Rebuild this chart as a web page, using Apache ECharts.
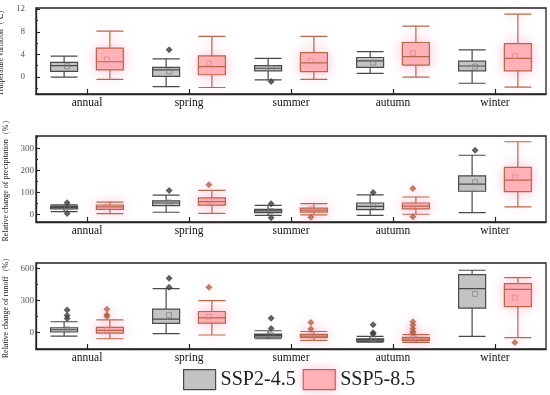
<!DOCTYPE html>
<html><head><meta charset="utf-8">
<script src="https://cdn.jsdelivr.net/npm/echarts@6/dist/echarts.min.js"></script>
<style>html,body{margin:0;padding:0;background:#fff}#c{width:550px;height:395px}</style>
</head><body><div id="c"></div>
<script>
const categories = ['annual','spring','summer','autumn','winter'];
const seriesNames = ['SSP2-4.5','SSP5-8.5'];

// Temperature variation: [min, Q1, median, Q3, max]
const tempSSP245 = [[0.0,1.0,2.0,2.6,3.7],[-1.7,0.1,1.25,1.7,3.2],[-0.5,1.1,1.55,2.0,3.3],[0.65,1.7,2.85,3.45,4.5],[-1.1,1.1,1.95,2.8,4.8]];
const tempSSP585 = [[-0.4,1.25,2.7,5.1,8.1],[-1.85,0.4,1.85,3.75,7.2],[-0.4,0.95,2.5,4.3,7.2],[0.0,2.1,3.6,6.1,9.0],[-1.8,1.1,3.3,5.9,11.1]];
const tempMean245 = [1.9,1.0,1.6,2.55,1.85];
const tempMean585 = [3.1,2.4,2.8,4.2,3.7];
const tempOut245 = [[],[4.8],[-0.8],[],[]];
const tempOut585 = [[],[],[],[],[]];
const tempTicks = [0,4,8,12];
const tempMinor = [-2,2,6,10];

// Precipitation relative change (%)
const precSSP245 = [[14,26,33,39,45],[11,41,53,63,89],[-3,9,17,24,42],[-3,23,38,53,90],[9,106,138,176,269]];
const precSSP585 = [[5,24,35,44,57],[6,43,59,76,110],[-1,12,21,30,50],[2,26,39,53,80],[35,104,156,214,330]];
const precMean245 = [33,55,17,40,147];
const precMean585 = [35,63,24,42,169];
const precOut245 = [[54,6],[109],[50,-14],[101],[291]];
const precOut585 = [[],[136],[-12],[119,-9],[]];
const precTicks = [0,100,200,300];
const precMinor = [50,150,250,350];

// Runoff relative change (%)
const runSSP245 = [[-34,4,25,44,100],[-12,84,125,218,410],[-59,-43,-28,-15,16],[-90,-80,-68,-59,-37],[-37,227,410,541,582]];
const runSSP585 = [[-59,-6,19,47,118],[-24,88,137,196,298],[-75,-49,-34,-19,9],[-93,-77,-62,-47,-21],[-49,242,404,457,513]];
const runMean245 = [30,162,-25,-62,361];
const runMean585 = [25,149,-30,-55,326];
const runOut245 = [[211,158,130],[507,423],[134,37],[72,-3,-15],[]];
const runOut585 = [[218,165,149],[423],[93,32],[100,69,37,9,-6],[-93]];
const runTicks = [0,300,600];
const runMinor = [-150,150,450];

const SERIF = 'Liberation Serif';
const OFF = 0.195;
const grayStyle = {color:'#c3c3c3', borderColor:'#4a4a4a', borderWidth:1.2};
const pinkStyle = {color:'#ffb4b9', borderColor:'#b8684a', borderWidth:1.2, shadowBlur:12, shadowColor:'rgba(255,130,175,0.45)'};

const panels = [
  {top:8, min:-3, max:12.2, name:'Temperature variation（℃）', ticks:tempTicks, minor:tempMinor, margin:11, nameSize:7.5,
   a:tempSSP245, b:tempSSP585, ma:tempMean245, mb:tempMean585, oa:tempOut245, ob:tempOut585},
  {top:136, min:-33, max:356, name:'Relative change of precipitation（%）', ticks:precTicks, minor:precMinor, margin:2, nameSize:8,
   a:precSSP245, b:precSSP585, ma:precMean245, mb:precMean585, oa:precOut245, ob:precOut585},
  {top:263, min:-155, max:650, name:'Relative change of runoff（%）', ticks:runTicks, minor:runMinor, margin:2, nameSize:8,
   a:runSSP245, b:runSSP585, ma:runMean245, mb:runMean585, oa:runOut245, ob:runOut585}
];

const grid=[], xAxis=[], yAxis=[], series=[];
panels.forEach((p,k)=>{
  grid.push({left:36, right:4, top:p.top, height:86, show:true, borderColor:'#222', borderWidth:1.3, backgroundColor:'transparent',
    containLabel:false, outerBoundsMode:'none'});
  xAxis.push({type:'category', gridIndex:k, data:categories, boundaryGap:true, position:'bottom',
    axisLine:{onZero:false, lineStyle:{color:'#222', width:1.3}},
    axisTick:{show:true, inside:true, alignWithLabel:true, length:5, lineStyle:{color:'#222', width:1.2}},
    axisLabel:{fontFamily:SERIF, fontSize:11.5, color:'#111', margin:3}, splitLine:{show:false}});
  xAxis.push({type:'value', gridIndex:k, min:-0.5, max:4.5, show:false, axisLine:{onZero:false}});
  yAxis.push({type:'value', gridIndex:k, min:p.min, max:p.max, position:'left', name:p.name, nameLocation:'middle', nameGap:23,
    nameTextStyle:{fontFamily:SERIF, fontSize:p.nameSize, color:'#222'},
    axisLine:{show:true, onZero:false, lineStyle:{color:'#222', width:1.3}},
    axisTick:{show:true, inside:true, length:4, customValues:p.ticks, lineStyle:{color:'#222', width:1.1}},
    axisLabel:{fontFamily:SERIF, fontSize:9, color:'#555', margin:p.margin, customValues:p.ticks},
    splitLine:{show:false}});
  yAxis.push({type:'value', gridIndex:k, min:p.min, max:p.max, position:'left',
    axisLine:{show:false, onZero:false}, axisLabel:{show:false}, splitLine:{show:false},
    axisTick:{show:true, inside:true, length:2, customValues:p.minor, lineStyle:{color:'#222', width:1}}});
  series.push({type:'boxplot', name:seriesNames[0], xAxisIndex:2*k, yAxisIndex:2*k, data:p.a, boxWidth:[27,27], itemStyle:grayStyle, silent:true});
  series.push({type:'boxplot', name:seriesNames[1], xAxisIndex:2*k, yAxisIndex:2*k, data:p.b, boxWidth:[27,27], itemStyle:pinkStyle, silent:true});
  series.push({type:'scatter', name:'mean-a-'+k, xAxisIndex:2*k+1, yAxisIndex:2*k, symbol:'rect', symbolSize:5,
    data:p.ma.map((v,i)=>[i-OFF, v]), itemStyle:{color:'rgba(0,0,0,0)', borderColor:'#777', borderWidth:0.8}, z:5, silent:true});
  series.push({type:'scatter', name:'mean-b-'+k, xAxisIndex:2*k+1, yAxisIndex:2*k, symbol:'rect', symbolSize:5,
    data:p.mb.map((v,i)=>[i+OFF, v]), itemStyle:{color:'rgba(0,0,0,0)', borderColor:'#d88080', borderWidth:0.8}, z:5, silent:true});
  const oa=[], ob=[];
  p.oa.forEach((arr,i)=>arr.forEach(v=>oa.push([i-OFF, v])));
  p.ob.forEach((arr,i)=>arr.forEach(v=>ob.push([i+OFF, v])));
  series.push({type:'scatter', name:'out-a-'+k, xAxisIndex:2*k+1, yAxisIndex:2*k, symbol:'diamond', symbolSize:7,
    data:oa, itemStyle:{color:'#3a3a3a'}, z:5, silent:true});
  series.push({type:'scatter', name:'out-b-'+k, xAxisIndex:2*k+1, yAxisIndex:2*k, symbol:'diamond', symbolSize:7,
    data:ob, itemStyle:{color:'#b0603e', shadowBlur:8, shadowColor:'rgba(255,130,175,0.5)'}, z:5, silent:true});
});

const chart = echarts.init(document.getElementById('c'), null, {renderer:'canvas'});
chart.setOption({
  animation:false,
  backgroundColor:'#fff',
  grid, xAxis, yAxis, series,
  legend:{data:[{name:seriesNames[0], icon:'rect', itemStyle:{color:'#c3c3c3', borderColor:'#4a4a4a', borderWidth:1.2}},
                {name:seriesNames[1], icon:'rect', itemStyle:{color:'#ffb4b9', borderColor:'#b8684a', borderWidth:1.2, shadowBlur:10, shadowColor:'rgba(255,130,175,0.45)'}}],
    left:183, top:369, itemWidth:32, itemHeight:20, itemGap:7, padding:0,
    textStyle:{fontFamily:SERIF, fontSize:20, color:'#222'}}
});
</script></body></html>
